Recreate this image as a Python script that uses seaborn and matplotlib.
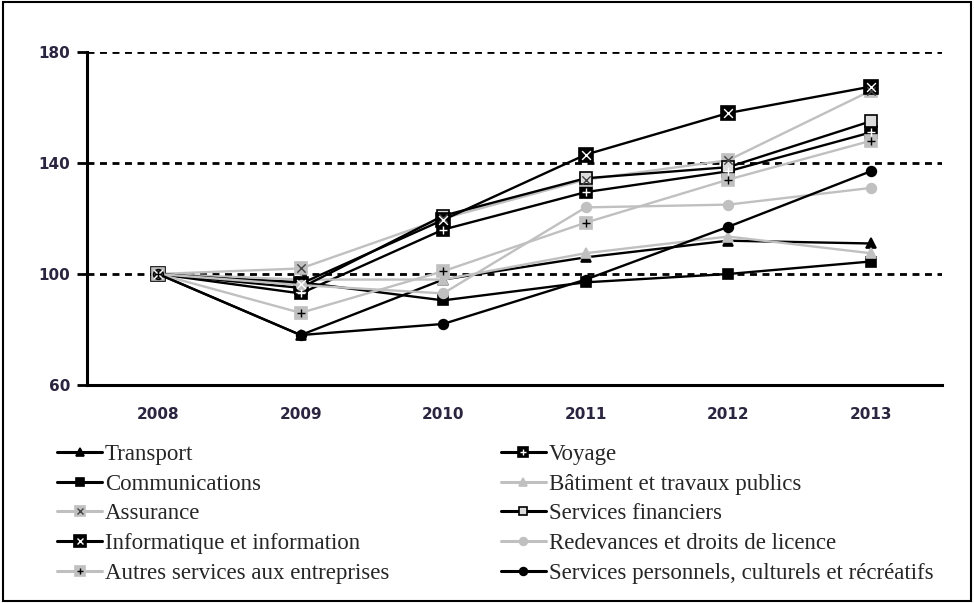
import matplotlib
matplotlib.use("Agg")
import matplotlib.pyplot as plt
from matplotlib.lines import Line2D
from matplotlib.patches import Rectangle
import pandas as pd
import seaborn as sns

# values (index, 2008 = 100)
years = ['2008', '2009', '2010', '2011', '2012', '2013']
transport = [100, 78, 98, 106, 112, 111]
voyage = [100, 93, 116, 129.5, 137, 151]
communications = [100, 97, 90.5, 97, 100, 104.5]
batiment = [100, 98, 98, 107.5, 113.5, 107.5]
assurance = [100, 102, 120, 134, 141, 166]
services_financiers = [100, 95, 121, 134.5, 138.5, 155]
informatique = [100, 96.5, 119.5, 143, 158, 167.5]
redevances = [100, 96, 93, 124, 125, 131]
autres_services = [100, 86, 101, 118.5, 134, 148]
services_personnels = [100, 78, 82, 98, 117, 137]
y_ticks = [60, 100, 140, 180]

BLACK = '#000000'
GREY = '#c0c0c0'

# name, values, line colour, base marker, marker size, face, edge, inner marker, inner colour
series = [
    ('Transport', transport, BLACK, '^', 7, BLACK, BLACK, None, None),
    ('Voyage', voyage, BLACK, 's', 9, BLACK, BLACK, '+', 'white'),
    ('Communications', communications, BLACK, 's', 7, BLACK, BLACK, None, None),
    ('Bâtiment et travaux publics', batiment, GREY, '^', 7, GREY, GREY, None, None),
    ('Assurance', assurance, GREY, 's', 9, GREY, GREY, 'x', '#444444'),
    ('Services financiers', services_financiers, BLACK, 's', 8, '#dddddd', BLACK, None, None),
    ('Informatique et information', informatique, BLACK, 's', 10, BLACK, BLACK, 'x', 'white'),
    ('Redevances et droits de licence', redevances, GREY, 'o', 7, GREY, GREY, None, None),
    ('Autres services aux entreprises', autres_services, GREY, 's', 9, GREY, GREY, '+', BLACK),
    ('Services personnels, culturels et récréatifs', services_personnels, BLACK, 'o', 7, BLACK, BLACK, None, None),
]

sns.set_style('white')

fig = plt.figure(figsize=(9.74, 6.03), dpi=100)
ax = fig.add_axes([0.0893, 0.3615, 0.8777, 0.5523])

# dashed horizontal gridlines
for yv in y_ticks[1:]:
    ax.axhline(yv, color=BLACK, lw=2, ls=(0, (2.5, 2)), zorder=1)

handles = {}
for name, vals, col, mk, ms, fc, ec, inner, icol in series:
    df = pd.DataFrame({'year': years, 'value': vals})
    sns.lineplot(data=df, x='year', y='value', ax=ax, color=col, lw=1.7,
                 marker=mk, markersize=ms, markerfacecolor=fc,
                 markeredgecolor=ec, markeredgewidth=1.2, zorder=3)
    h_base = Line2D([], [], color=col, lw=2.2, marker=mk, markersize=ms * 0.8,
                    markerfacecolor=fc, markeredgecolor=ec, markeredgewidth=1.2)
    if inner is not None:
        sns.scatterplot(data=df, x='year', y='value', ax=ax, marker=inner,
                        color=icol, s=ms * 4, linewidth=1.0, zorder=4, legend=False)
        h_inner = Line2D([], [], ls='none', marker=inner, markersize=ms * 0.5,
                         color=icol, markeredgewidth=1.0)
        handles[name] = (h_base, h_inner)
    else:
        handles[name] = h_base

ax.set_xlim(-0.5, len(years) - 0.5)
ax.set_ylim(60, 180)
ax.set_yticks(y_ticks)
ax.set_xlabel('')
ax.set_ylabel('')

for side in ['top', 'right']:
    ax.spines[side].set_visible(False)
for side in ['left', 'bottom']:
    ax.spines[side].set_linewidth(2.2)
    ax.spines[side].set_color(BLACK)

ax.set_xticks(range(len(years)))
ax.set_xticklabels(years)
ax.set_xticks([i + 0.5 for i in range(len(years) - 1)], minor=True)
ax.tick_params(axis='x', which='major', length=0, pad=16)
ax.tick_params(axis='x', which='minor', direction='out', length=6, width=2, color=BLACK)
ax.tick_params(axis='y', direction='out', length=7, width=2, color=BLACK, pad=5)
ax.tick_params(left=True, bottom=True)
for lab in ax.get_xticklabels() + ax.get_yticklabels():
    lab.set_fontweight('bold')
    lab.set_fontsize(11)
    lab.set_color('#2b2540')

# legend, laid out as in the original (two columns)
order = ['Transport', 'Communications', 'Assurance', 'Informatique et information',
         'Autres services aux entreprises', 'Voyage', 'Bâtiment et travaux publics',
         'Services financiers', 'Redevances et droits de licence',
         'Services personnels, culturels et récréatifs']
fig.legend([handles[n] for n in order], order, ncol=2, loc='upper left',
           bbox_to_anchor=(0.0585, 0.263), frameon=False, borderpad=0,
           borderaxespad=0, prop={'family': 'Liberation Serif', 'size': 16.5},
           handlelength=1.97, handletextpad=0.13, labelspacing=0.37,
           columnspacing=4.85)

# frame around the whole picture
fig.patches.append(Rectangle((0.003, 0.003), 0.994, 0.994, transform=fig.transFigure,
                             fill=False, edgecolor=BLACK, lw=1.5))

fig.savefig('out.png', dpi=100)
